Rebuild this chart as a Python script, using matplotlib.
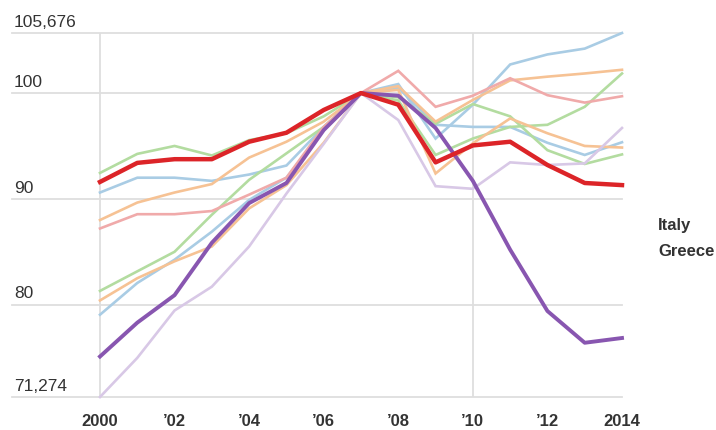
import matplotlib.pyplot as plt

plt.rcParams['font.family'] = ['Liberation Sans', 'DejaVu Sans']

# Data (index, 2007 = 100)
years = list(range(2000, 2015))
italy = [91.6, 93.4, 93.75, 93.75, 95.4, 96.25, 98.4, 100, 98.9, 93.45, 95.05, 95.4, 93.2, 91.5, 91.3]
greece = [75.1, 78.3, 80.9, 85.85, 89.6, 91.5, 96.5, 100, 99.75, 96.7, 91.7, 85.2, 79.4, 76.4, 76.85]

blue_a = [79.05, 82.05, 84.25, 86.9, 89.9, 92.0, 96.5, 100, 100.85, 95.7, 98.9, 102.7, 103.65, 104.2, 105.676]
blue_b = [90.6, 92.0, 92.0, 91.7, 92.3, 93.15, 96.8, 100, 100.5, 97.0, 96.8, 96.8, 95.3, 94.15, 95.35]
green_a = [92.45, 94.25, 95.0, 94.1, 95.55, 96.2, 97.8, 100, 99.6, 97.1, 98.96, 97.8, 94.6, 93.3, 94.2]
green_b = [81.3, 83.15, 85.0, 88.5, 91.8, 94.3, 96.8, 100, 99.3, 94.15, 95.7, 96.8, 97.0, 98.7, 101.85]
orange_a = [88.0, 89.65, 90.6, 91.4, 93.9, 95.4, 97.3, 100, 100.65, 97.3, 99.35, 101.2, 101.55, 101.85, 102.2]
orange_b = [80.4, 82.5, 84.1, 85.5, 89.1, 91.3, 95.3, 100, 100.3, 92.4, 95.25, 97.6, 96.2, 95.0, 94.85]
pink = [87.2, 88.55, 88.55, 88.85, 90.4, 92.0, 96.8, 100, 102.1, 98.7, 99.75, 101.4, 99.8, 99.1, 99.7]
lavender = [71.274, 74.97, 79.45, 81.7, 85.5, 90.5, 95.2, 100, 97.45, 91.2, 90.95, 93.45, 93.2, 93.35, 96.7]

y_min, y_max = 71.274, 105.676
y_grid = [y_min, 80, 90, 100, y_max]
y_grid_labels = ['71,274', '80', '90', '100', '105,676']
x_grid = [2000, 2010]
x_ticks = [2000, 2002, 2004, 2006, 2008, 2010, 2012, 2014]
x_tick_labels = ['2000', '\u201902', '\u201904', '\u201906', '\u201908', '\u201910', '\u201912', '2014']

# Figure
fig = plt.figure(figsize=(7.16, 4.30), dpi=100)
ax = fig.add_axes([12 / 716, 1 - 397 / 430, 610 / 716, 364 / 430])
ax.set_xlim(2000 - 88 / 37.29, 2014)
ax.set_ylim(y_min, y_max)
ax.axis('off')

# Gridlines
for v in y_grid:
    ax.axhline(v, color='#dedede', linewidth=1.3, zorder=1, clip_on=False)
for yr in x_grid:
    ax.axvline(yr, color='#dedede', linewidth=1.3, zorder=1)

# Background countries
light = [
    (blue_a, '#a9cce4'), (blue_b, '#a9cce4'),
    (green_a, '#b3dca0'), (green_b, '#b3dca0'),
    (orange_a, '#f6c294'), (orange_b, '#f6c294'),
    (pink, '#f0aaaa'), (lavender, '#d8c8e6'),
]
for serie, color in light:
    ax.plot(years, serie, color=color, linewidth=1.9, zorder=2, clip_on=False,
            solid_joinstyle='miter')

# Highlighted countries
ax.plot(years, greece, color='#8856b0', linewidth=2.8, zorder=3, clip_on=False)
ax.plot(years, italy, color='#dc2428', linewidth=3.2, zorder=4, clip_on=False)

# Y labels above gridlines
for v, lab in zip(y_grid, y_grid_labels):
    ax.annotate(lab, xy=(0, v), xycoords=('axes fraction', 'data'), xytext=(1.5, 4.5),
                textcoords='offset points', fontsize=12.5, color='#333333',
                ha='left', va='baseline')

# X labels
for yr, lab in zip(x_ticks, x_tick_labels):
    ax.annotate(lab, xy=(yr, y_min), xytext=(0, -18), textcoords='offset points',
                fontsize=12, fontweight='bold', color='#333333', ha='center', va='center')

# Highlight labels
fig.text(658 / 716, 1 - 225 / 430, 'Italy', fontsize=12, fontweight='bold',
         color='#333333', ha='left', va='center')
fig.text(658 / 716, 1 - 252 / 430, 'Greece', fontsize=12, fontweight='bold',
         color='#333333', ha='left', va='center')

fig.savefig('out.png', dpi=100)
